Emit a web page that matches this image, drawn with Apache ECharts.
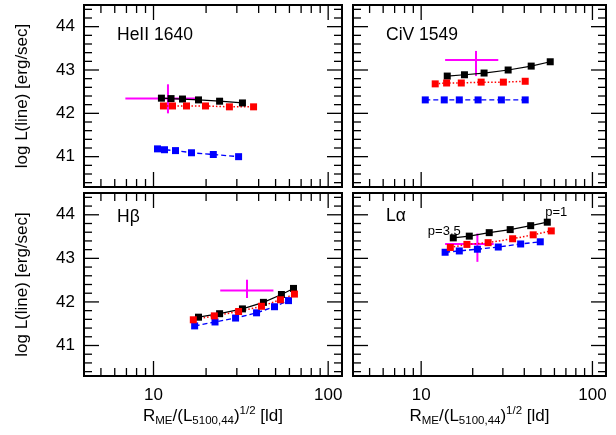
<!DOCTYPE html>
<html><head><meta charset="utf-8">
<script src="https://cdn.jsdelivr.net/npm/echarts@6/dist/echarts.min.js"></script>
<style>html,body{margin:0;padding:0;background:#fff}#c{width:616px;height:435px}</style>
</head><body><div id="c"></div>
<script>
// ---------- data ----------
const panelTitles = ['HeII 1640', 'CiV 1549', 'H\u03b2', 'L\u03b1'];
const yAxisTitle = 'log L(line) [erg/sec]';

const heiiBlack = [[11.1,42.35],[12.6,42.34],[14.65,42.33],[18.1,42.31],[23.9,42.28],[32.3,42.24]];
const heiiRed   = [[11.4,42.17],[12.85,42.17],[15.45,42.17],[19.85,42.17],[27.2,42.15],[37.4,42.15]];
const heiiBlue  = [[10.54,41.18],[11.56,41.16],[13.36,41.14],[16.5,41.09],[22.0,41.05],[30.7,41.0]];
const heiiObs   = [[12.1,42.34,6.9,17.7,42.0,42.67]];

const civBlack = [[14.2,42.86],[17.9,42.89],[23.3,42.93],[32.2,43.0],[43.9,43.09],[56.7,43.19]];
const civRed   = [[12.08,42.68],[14.08,42.70],[17.15,42.70],[22.4,42.72],[30.2,42.72],[40.5,42.74]];
const civBlue  = [[10.57,42.31],[13.64,42.31],[16.7,42.31],[21.5,42.31],[29.4,42.31],[40.5,42.31]];
const civObs   = [[20.9,43.23,13.8,28.2,42.86,43.44]];

const hbBlack = [[18.1,41.65],[23.9,41.73],[32.3,41.84],[42.6,41.99],[54.0,42.17],[63.3,42.31]];
const hbRed   = [[16.9,41.59],[22.3,41.68],[30.7,41.78],[41.5,41.90],[53.3,42.05],[64.1,42.18]];
const hbBlue  = [[17.2,41.45],[22.5,41.54],[29.5,41.63],[38.9,41.75],[49.3,41.89],[59.3,42.03]];
const hbObs   = [[34.3,42.26,24.1,48.6,42.09,42.51]];

const lyaBlack = [[15.4,43.47],[19.1,43.51],[24.97,43.59],[33.1,43.66],[43.6,43.75],[54.5,43.83]];
const lyaRed   = [[14.8,43.25],[18.5,43.32],[24.6,43.36],[34.2,43.45],[45.1,43.54],[57.5,43.63]];
const lyaBlue  = [[13.8,43.14],[16.7,43.17],[21.3,43.21],[28.2,43.26],[38.1,43.33],[49.6,43.38]];
const lyaObs   = [[21.3,43.33,13.8,26.5,42.92,43.57]];
const lyaBlackNotes = ['p=3,5', '', '', '', '', 'p=1'];

const xMajorTicks = [10, 100];
const xMinorTicks = [4,5,6,7,8,9,20,30,40,50,60,70,80,90];
const yMajorTicks = [41, 42, 43, 44];
const yMinorTicks = [40.4,40.6,40.8,41.2,41.4,41.6,41.8,42.2,42.4,42.6,42.8,43.2,43.4,43.6,43.8,44.2,44.4];

// ---------- chart ----------
const FONT = 'Liberation Sans, Arial, Helvetica, sans-serif';
const panels = [
  {black: heiiBlack, red: heiiRed, blue: heiiBlue, obs: heiiObs},
  {black: civBlack,  red: civRed,  blue: civBlue,  obs: civObs},
  {black: hbBlack,   red: hbRed,   blue: hbBlue,   obs: hbObs},
  {black: lyaBlack,  red: lyaRed,  blue: lyaBlue,  obs: lyaObs, notes: lyaBlackNotes}
];
const grids = [
  {left: 84,  top: 5,   width: 258, height: 182},
  {left: 353, top: 5,   width: 253, height: 182},
  {left: 84,  top: 193, width: 258, height: 183},
  {left: 353, top: 193, width: 253, height: 183}
];
const MAJ = 15, MIN = 8;

const isPow10 = v => { const l = Math.log10(v); return Math.abs(l - Math.round(l)) < 1e-6 && v >= 9.99 && v <= 100.01; };

const xNameRich = {
  m:   {fontSize: 17, fontFamily: FONT, color: '#000', lineHeight: 22},
  sub: {fontSize: 11.5, fontFamily: FONT, color: '#000', lineHeight: 6, verticalAlign: 'bottom'},
  sup: {fontSize: 11.5, fontFamily: FONT, color: '#000', lineHeight: 8, verticalAlign: 'top'}
};
const xName = '{m|R}{sub|ME}{m|/(L}{sub|5100,44}{m|)}{sup|1/2}{m| [ld]}';

const xAxes = grids.map((g, i) => ({
  type: 'log', logBase: 10, gridIndex: i, min: 4, max: 120,
  axisLine: {show: false}, axisTick: {show: false}, splitLine: {show: false},
  axisLabel: {show: i >= 2, fontSize: 17, fontFamily: FONT, color: '#000', margin: 11,
    formatter: v => isPow10(v) ? String(Math.round(v)) : ''},
  name: i >= 2 ? xName : '', nameLocation: 'middle', nameGap: 29,
  nameTextStyle: {rich: xNameRich}
}));
const yAxes = grids.map((g, i) => ({
  type: 'value', gridIndex: i, min: 40.3, max: 44.5, interval: 0.1,
  axisLine: {show: false}, axisTick: {show: false}, splitLine: {show: false},
  axisLabel: {show: i % 2 === 0, interval: 0, fontSize: 17, fontFamily: FONT, color: '#000', margin: 9,
    formatter: v => Math.abs(v - Math.round(v)) < 1e-6 ? String(Math.round(v)) : ''},
  name: i % 2 === 0 ? yAxisTitle : '', nameLocation: 'middle', nameGap: 53,
  nameTextStyle: {fontSize: 17, fontFamily: FONT, color: '#000'}
}));

const series = [];
panels.forEach((p, i) => {
  const base = {type: 'line', xAxisIndex: i, yAxisIndex: i, symbol: 'rect', symbolSize: 7, showSymbol: true, animation: false, silent: true};
  const blackData = p.black.map((d, k) => (p.notes && p.notes[k]) ? {
    value: d,
    label: {show: true, formatter: p.notes[k], position: 'top', distance: 0,
      offset: k === 0 ? [-9, 4] : [9, 0], fontSize: 13, fontFamily: FONT, color: '#000'}
  } : d);
  series.push(Object.assign({}, base, {data: blackData, itemStyle: {color: '#000'}, lineStyle: {color: '#000', width: 1.2, type: 'solid'}}));
  series.push(Object.assign({}, base, {data: p.blue, itemStyle: {color: '#0000ff'}, lineStyle: {color: '#0000ff', width: 1.4, type: [5, 3]}}));
  series.push(Object.assign({}, base, {data: p.red, itemStyle: {color: '#ff0000'}, lineStyle: {color: '#ff0000', width: 1.5, type: [1.5, 2]}}));
  series.push({
    type: 'custom', xAxisIndex: i, yAxisIndex: i, data: p.obs, silent: true, animation: false,
    encode: {x: 0, y: 1},
    renderItem: (params, api) => {
      const x = api.value(0), y = api.value(1);
      const pl = api.coord([api.value(2), y]), ph = api.coord([api.value(3), y]);
      const pb = api.coord([x, api.value(4)]), pt = api.coord([x, api.value(5)]);
      const st = {stroke: '#ff00ff', lineWidth: 2};
      return {type: 'group', children: [
        {type: 'line', shape: {x1: pl[0], y1: pl[1], x2: ph[0], y2: ph[1]}, style: st},
        {type: 'line', shape: {x1: pb[0], y1: pb[1], x2: pt[0], y2: pt[1]}, style: st}
      ]};
    }
  });
  // frame ticks on all four sides
  series.push({
    type: 'custom', xAxisIndex: i, yAxisIndex: i, data: [[10, 42]], silent: true, animation: false, z: 5,
    renderItem: (params, api) => {
      const cs = params.coordSys;
      const L = cs.x, T = cs.y, R = cs.x + cs.width, B = cs.y + cs.height;
      const ch = [];
      const add = (x1, y1, x2, y2) => ch.push({type: 'line', shape: {x1, y1, x2, y2}, style: {stroke: '#000', lineWidth: 1.3}});
      const xt = (v, len) => { const x = api.coord([v, 42])[0]; add(x, B, x, B - len); add(x, T, x, T + len); };
      const yt = (v, len) => { const y = api.coord([10, v])[1]; add(L, y, L + len, y); add(R, y, R - len, y); };
      xMajorTicks.forEach(v => xt(v, MAJ));
      xMinorTicks.forEach(v => xt(v, MIN));
      yMajorTicks.forEach(v => yt(v, MAJ));
      yMinorTicks.forEach(v => yt(v, MIN));
      return {type: 'group', children: ch};
    }
  });
});

const titlePos = [[117, 36], [386, 36], [117, 218], [386, 217]];
const graphic = panelTitles.map((t, i) => ({
  type: 'text', left: titlePos[i][0], top: titlePos[i][1] - 10, silent: true,
  style: {text: t, font: '17.5px ' + FONT, fill: '#000'}
}));

const chart = echarts.init(document.getElementById('c'), null, {renderer: 'canvas'});
chart.setOption({
  animation: false,
  backgroundColor: '#fff',
  grid: grids.map(g => Object.assign({show: true, borderColor: '#000', borderWidth: 2, backgroundColor: 'transparent', containLabel: false}, g)),
  xAxis: xAxes, yAxis: yAxes, series, graphic
});
</script></body></html>
